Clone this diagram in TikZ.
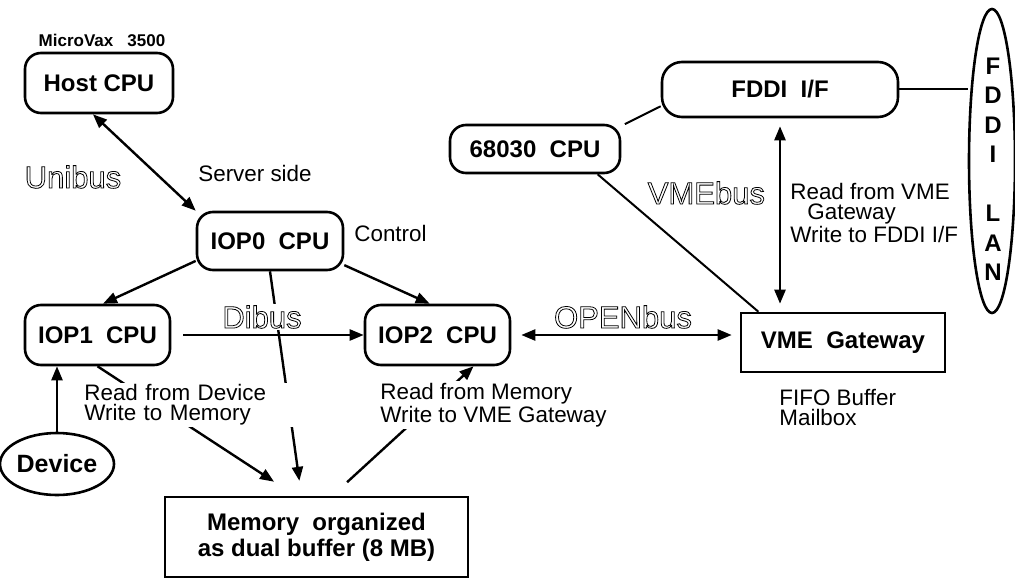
\documentclass[tikz,border=0pt]{standalone}
\usepackage{fontspec}
\setmainfont{Liberation Sans}
\usetikzlibrary{arrows.meta, shapes.geometric}

% hollow letters for the bus names
\newcommand{\hollow}[1]{\special{pdf:literal direct 1 Tr}#1\special{pdf:literal direct 0 Tr}}

\begin{document}
\begin{tikzpicture}[x=0.5pt, y=-0.5pt,
    cpu/.style={draw, line width=1.3pt, rounded corners=8pt, inner sep=0pt, font=\bfseries\fontsize{12}{14}\selectfont},
    box/.style={draw, line width=1.3pt, inner sep=0pt, font=\bfseries\fontsize{12}{14}\selectfont},
    note/.style={font=\fontsize{11.2}{10}\selectfont, align=left, inner sep=1pt},
    bus/.style={font=\fontsize{15.5}{17}\selectfont},
    arr/.style={-{Triangle[length=7pt,width=5.5pt]}, line width=1.2pt},
    dbl/.style={{Triangle[length=7pt,width=5.5pt]}-{Triangle[length=7pt,width=5.5pt]}, line width=1.2pt},
    link/.style={line width=1pt}
    ]
    \useasboundingbox (0,0) rectangle (1015,583);

    % boxes
    \node[font=\bfseries\fontsize{8.5}{10}\selectfont] (vax) at (102,40) {MicroVax\ \ \ 3500};
    \node[cpu, minimum width=74pt, minimum height=30pt] (host) at (99,83) {Host CPU};
    \node[cpu, minimum width=73pt, minimum height=29pt] (iop0) at (270,241) {IOP0\ \ CPU};
    \node[cpu, minimum width=72.5pt, minimum height=30pt] (iop1) at (97.5,335) {IOP1\ \ CPU};
    \node[cpu, minimum width=72.5pt, minimum height=30pt] (iop2) at (437.5,335) {IOP2\ \ CPU};
    \node[cpu, minimum width=85pt, minimum height=24pt] (cpu68) at (535,149) {68030\ \ CPU};
    \node[cpu, rounded corners=10pt, minimum width=118pt, minimum height=27.5pt] (fddi) at (780,89.5) {FDDI\ \ I/F};
    \node[box, minimum width=102pt, minimum height=29.5pt] (vme) at (843,342.5) {VME\ \ Gateway};
    \node[box, minimum width=151.5pt, minimum height=40pt, align=center, font=\bfseries\fontsize{12}{13}\selectfont] (mem) at (316.5,537) {Memory\ \ organized\\as dual buffer (8 MB)};
    \node[draw, ellipse, line width=1.3pt, inner sep=0pt, minimum width=48pt, minimum height=31pt, font=\bfseries\fontsize{12.5}{14}\selectfont] (dev) at (57,464) {Device};
    \node[draw, ellipse, line width=1.3pt, inner sep=0pt, minimum width=23pt, minimum height=152pt] (lan) at (992,161) {};
    \node[align=center, font=\bfseries\fontsize{12}{14.75}\selectfont] (lantext) at (993,169) {F\\D\\D\\I\\[14.75pt]L\\A\\N};

    % buses and transfers
    \draw[dbl] (host.259) -- (iop0.north west);
    \draw[arr] (iop0.195) -- (iop1.80);
    \draw[arr] (iop0.-18) -- (iop2.104);
    \draw[arr, shorten <=6pt] (iop1.east) -- (iop2.west);
    \draw[dbl, shorten <=5pt, shorten >=4pt] (iop2.east) -- (iop2.east -| vme.west);
    \draw[arr] (dev.north) -- (dev.north |- iop1.south);
    \draw[arr, shorten >=12.8pt] (iop1.south) -- (mem.117);
    \draw[arr, shorten >=7.5pt] (iop0.south) -- (mem.110);
    \draw[arr, shorten <=10pt] (mem.69) -- (iop2.-41);
    \draw[link, shorten <=2pt] (cpu68.15) -- (fddi.188);
    \draw[link] (cpu68.-22.5) -- (vme.160);
    \draw[link] (fddi.east) -- (fddi.east -| lan.west);
    \draw[dbl, shorten <=4pt, shorten >=4pt] (fddi.south) -- (fddi.south |- vme.north);

    % labels
    \node[bus] (unibus) at (73,177) {\hollow{Unibus}};
    \node[note] (server) at (255,173) {Server side};
    \node[note, anchor=west] (ctrl) at (352,233) {Control};
    \node[bus, fill=white, inner sep=1pt] (dibus) at (262,317) {\hollow{Dibus}};
    \node[bus] (openbus) at (623,317) {\hollow{OPENbus}};
    \node[bus, anchor=east] (vmebus) at (772,193) {\hollow{VMEbus}};
    \node[note, anchor=west] (rdvme) at (788,213) {Read from VME\\\hspace*{8.5pt}Gateway\\Write to FDDI I/F};
    \node[note, anchor=west, fill=white, text width=105pt] (rddev) at (82,405) {Read from Device\\Write to Memory};
    \node[note, anchor=west, fill=white] (rdmem) at (378,405) {Read from Memory\\Write to VME Gateway};
    \node[note, anchor=west] (fifo) at (777,407) {FIFO Buffer\\Mailbox};

\end{tikzpicture}
\end{document}
